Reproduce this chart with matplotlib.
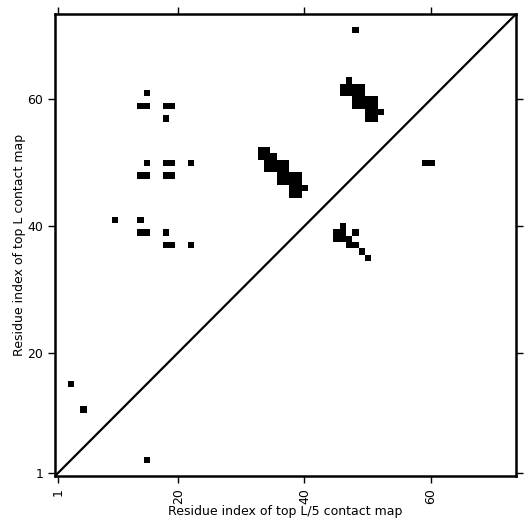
import numpy as np
import matplotlib
matplotlib.use("Agg")
import matplotlib.pyplot as plt

L = 73
# contact cells: x = residue index (top L/5 axis), y = residue index (top L axis)
contact_x = [15, 14, 15, 18, 19, 18, 15, 18, 19, 22, 14, 15, 18, 19,
             10, 14, 14, 15, 18, 18, 19, 22, 3, 5, 15,
             33, 34, 33, 34, 35, 34, 35, 36, 37, 34, 35, 36, 37,
             36, 37, 38, 39, 36, 37, 38, 39, 38, 39, 40, 38, 39,
             48, 47, 46, 47, 48, 49, 46, 47, 48, 49,
             48, 49, 50, 51, 48, 49, 50, 51, 50, 51, 52, 50, 51,
             46, 45, 46, 45, 46, 47, 48, 47, 48, 49, 50, 59, 60]
contact_y = [61, 59, 59, 59, 59, 57, 50, 50, 50, 50, 48, 48, 48, 48,
             41, 41, 39, 39, 39, 37, 37, 37, 15, 11, 3,
             52, 52, 51, 51, 51, 50, 50, 50, 50, 49, 49, 49, 49,
             48, 48, 48, 48, 47, 47, 47, 47, 46, 46, 46, 45, 45,
             71, 63, 62, 62, 62, 62, 61, 61, 61, 61,
             60, 60, 60, 60, 59, 59, 59, 59, 58, 58, 58, 57, 57,
             40, 39, 39, 38, 38, 38, 39, 37, 37, 36, 35, 50, 50]
tick_vals = [1, 20, 40, 60]
tick_labels = ["1", "20", "40", "60"]

M = np.zeros((L, L))
for xi, yi in zip(contact_x, contact_y):
    M[yi - 1, xi - 1] = 1

fig = plt.figure(figsize=(5.31, 5.31), dpi=100)
ax = fig.add_axes([0.1036, 0.1036, 0.9718 - 0.1036, 0.9736 - 0.1036])
ax.imshow(M, origin="lower", extent=(0.5, L + 0.5, 0.5, L + 0.5),
          cmap="Greys", vmin=0, vmax=1, interpolation="nearest", aspect="auto")
ax.plot([0, L + 1], [0, L + 1], color="black", linewidth=1.6)
ax.set_xlim(0.5, L + 0.5)
ax.set_ylim(0.5, L + 0.5)
ax.set_xticks(tick_vals)
ax.set_xticklabels(tick_labels, rotation=90)
ax.set_yticks(tick_vals)
ax.set_yticklabels(tick_labels)
ax.tick_params(direction="out", top=True, right=True, length=5, width=1,
               labelsize=9, colors="black")
for s in ax.spines.values():
    s.set_linewidth(1.8)
ax.set_xlabel("Residue index of top L/5 contact map", fontsize=9, labelpad=1)
ax.set_ylabel("Residue index of top L contact map", fontsize=9)
ax.yaxis.set_label_coords(-0.062, 0.5)
fig.savefig("out.png", dpi=100)
